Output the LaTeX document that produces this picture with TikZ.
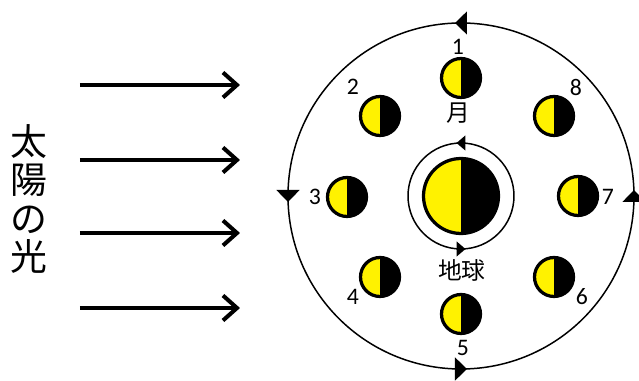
\documentclass[tikz,border=0pt]{standalone}
\usepackage{fontspec}
\newfontfamily\numfont{Carlito}
\newfontfamily\jpfont{Noto Sans CJK JP}
\usetikzlibrary{arrows.meta,decorations.markings}

\tikzset{
  orbit/.style={line width=0.85pt},
  moon/.style={circle,draw=black,fill=black,line width=0.065cm,minimum size=0.78cm,inner sep=0pt,
    path picture={\fill[yellow] (path picture bounding box.south west) rectangle (path picture bounding box.north);}},
  earth/.style={moon,minimum size=1.5cm},
  num/.style={font=\numfont\fontsize{13.5}{14}\selectfont,inner sep=0pt},
  jp/.style={font=\jpfont\fontsize{13.5}{14}\selectfont,inner sep=0pt},
  ray/.style={line width=2.3pt,-{Straight Barb[length=0.28cm,width=0.5cm,line width=2.3pt]}},
}

\begin{document}
\begin{tikzpicture}[x=0.02cm,y=0.02cm]
  \useasboundingbox (-461,-185) rectangle (178,196);

  % orbit of the moon
  \draw[orbit,postaction={decorate},decoration={markings,
      mark=at position 0 with {\arrow[xshift=0.12cm]{Triangle[length=0.24cm,width=0.46cm]}},
      mark=at position 0.25 with {\arrow[xshift=0.12cm]{Triangle[length=0.24cm,width=0.46cm]}},
      mark=at position 0.5 with {\arrow[xshift=0.12cm]{Triangle[length=0.24cm,width=0.46cm]}},
      mark=at position 0.75 with {\arrow[xshift=0.12cm]{Triangle[length=0.24cm,width=0.46cm]}}}]
    (0,0) circle (173);

  % rotation of the earth
  \draw[orbit,postaction={decorate},decoration={markings,
      mark=at position 0.25 with {\arrow[xshift=0.09cm]{Triangle[length=0.18cm,width=0.3cm]}},
      mark=at position 0.75 with {\arrow[xshift=0.09cm]{Triangle[length=0.18cm,width=0.3cm]}}}]
    (0,0) circle (53);

  \node[earth] (earth) at (0,0) {};
  \node[jp] (earthlabel) at (1,-74) {地球};

  % moon positions
  \node[moon] (m1) at (0,118) {};
  \node[moon] (m2) at (-81,80) {};
  \node[moon] (m3) at (-114,-1) {};
  \node[moon] (m4) at (-81,-81) {};
  \node[moon] (m5) at (0,-118) {};
  \node[moon] (m6) at (93,-81) {};
  \node[moon] (m7) at (117,0) {};
  \node[moon] (m8) at (93,80) {};

  \node[jp] (moonlabel) at (-3,83) {月};
  \node[num] (n1) at (-3,149) {1};
  \node[num] (n2) at (-108,109) {2};
  \node[num] (n3) at (-146,-1) {3};
  \node[num] (n4) at (-108,-101) {4};
  \node[num] (n5) at (2,-152) {5};
  \node[num] (n6) at (121,-101) {6};
  \node[num] (n7) at (147,-1) {7};
  \node[num] (n8) at (115,109) {8};

  % sunlight
  \node[font=\jpfont\fontsize{21}{22}\selectfont,align=center,inner sep=0pt] (sun) at (-432,-3)
    {太\\陽\\の\\光};
  \coordinate (s1) at (-381,111);  \coordinate (e1) at (-221,111);
  \coordinate (s2) at (-381,36);   \coordinate (e2) at (-221,36);
  \coordinate (s3) at (-381,-37);  \coordinate (e3) at (-221,-37);
  \coordinate (s4) at (-381,-112); \coordinate (e4) at (-221,-112);
  \draw[ray] (s1) -- (e1);
  \draw[ray] (s2) -- (e2);
  \draw[ray] (s3) -- (e3);
  \draw[ray] (s4) -- (e4);
\end{tikzpicture}
\end{document}
